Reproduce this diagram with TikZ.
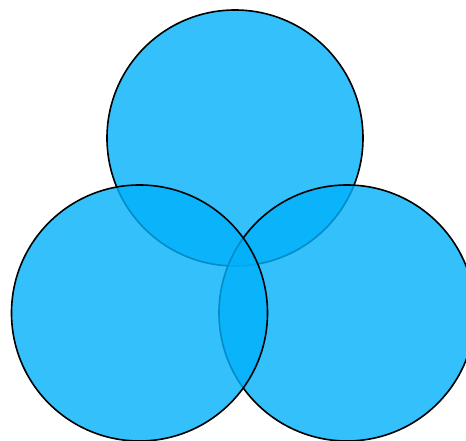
\documentclass[tikz,border=0pt]{standalone}
\usepackage{xcolor}
\usepackage{tikz}
\usetikzlibrary{shapes.geometric}
\definecolor{setblue}{RGB}{0, 176, 250}
\tikzset{
    setcircle/.style={circle, draw=black, fill=setblue, fill opacity=0.8, draw opacity=1, line width=1.6pt, minimum size=256pt, inner sep=0pt}
}
\begin{document}
\begin{tikzpicture}[x=1pt, y=-1pt]
        \useasboundingbox (0,0) rectangle (466,441);
        \clip (0,0) rectangle (466,441);

        % Sets
        \node [setcircle] (topset) at (235,138) {};
        \node [setcircle] (rightset) at (347,313) {};
        \node [setcircle] (leftset) at (139.5,313) {};

    \end{tikzpicture}
\end{document}
